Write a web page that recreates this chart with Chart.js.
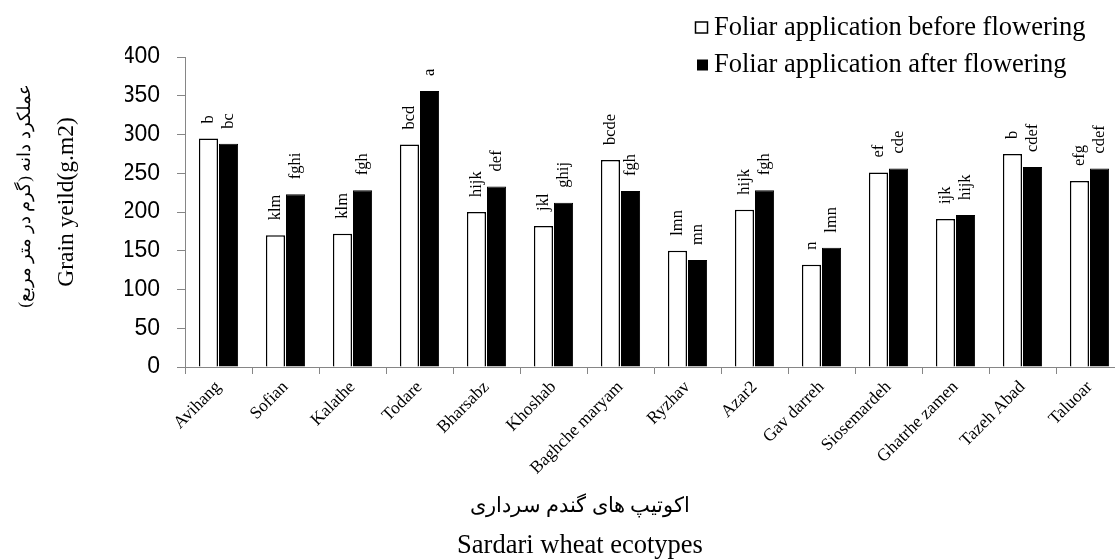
<!DOCTYPE html>
<html>
<head>
<meta charset="utf-8">
<script src="https://cdn.jsdelivr.net/npm/chart.js@4"></script>
<style>
html, body { margin: 0; padding: 0; background: #fff; overflow: hidden; }
</style>
</head>
<body>
<canvas id="yieldChart" width="1126" height="559"></canvas>
<script>
// chart data
var ecotypes = ['Avihang', 'Sofian', 'Kalathe', 'Todare', 'Bharsabz', 'Khoshab', 'Baghche maryam',
                'Ryzhav', 'Azar2', 'Gav darreh', 'Siosemardeh', 'Ghatrhe zamen', 'Tazeh Abad', 'Taluoar'];
var beforeFlowering = [295, 170, 172, 287, 200, 182, 267, 150, 203, 132, 251, 191, 275, 240];
var afterFlowering  = [288, 223, 228, 356, 233, 212, 227, 138, 228, 154, 256, 196, 258, 256];
var beforeLetters = ['b', 'klm', 'klm', 'bcd', 'hijk', 'jkl', 'bcde', 'lmn', 'hijk', 'n', 'ef', 'ijk', 'b', 'efg'];
var afterLetters  = ['bc', 'fghi', 'fgh', 'a', 'def', 'ghij', 'fgh', 'mn', 'fgh', 'lmn', 'cde', 'hijk', 'cdef', 'cdef'];
var seriesNames = ['Foliar application before flowering', 'Foliar application after flowering'];
var yTitle = ['عملکرد دانه (گرم در متر مربع)', 'Grain yeild(g.m2)'];
var xTitle = ['اکوتیپ های گندم سرداری', 'Sardari wheat ecotypes'];

var serif = '"Liberation Serif", "Times New Roman", serif';
var axisGrey = '#868686';

// letters of mean comparison above each bar
var lettersPlugin = {
    id: 'letters',
    afterDatasetsDraw: function(chart) {
        var ctx = chart.ctx;
        ctx.save();
        ctx.font = '16.5px ' + serif;
        ctx.fillStyle = '#000';
        ctx.textAlign = 'left';
        ctx.textBaseline = 'middle';
        [beforeLetters, afterLetters].forEach(function(letters, d) {
            chart.getDatasetMeta(d).data.forEach(function(bar, i) {
                ctx.save();
                ctx.translate(bar.x, bar.y - 15);
                ctx.rotate(-Math.PI / 2);
                ctx.fillText(letters[i], 0, 0);
                ctx.restore();
            });
        });
        ctx.restore();
    }
};

// stacked legend in the top right corner
var legendPlugin = {
    id: 'stackLegend',
    afterDraw: function(chart) {
        var ctx = chart.ctx;
        var x = 695, y = 27;
        ctx.save();
        ctx.font = '26.5px ' + serif;
        ctx.textBaseline = 'middle';
        ctx.fillStyle = '#000';
        chart.data.datasets.forEach(function(ds, i) {
            var cy = y + i * 37;
            if (i === 0) {
                ctx.strokeStyle = '#000';
                ctx.lineWidth = 1.5;
                ctx.strokeRect(x + 0.5, cy - 5, 12, 11);
            } else {
                ctx.fillRect(x + 2, cy - 4.5, 11, 11);
            }
            ctx.fillText(ds.label, x + 19, cy + 1);
        });
        ctx.restore();
    }
};

// two-line axis titles (Persian + English)
var titlesPlugin = {
    id: 'titles',
    afterDraw: function(chart) {
        var ctx = chart.ctx, a = chart.chartArea;
        ctx.save();
        ctx.fillStyle = '#000';
        ctx.textAlign = 'center';
        ctx.textBaseline = 'middle';
        var midY = (a.top + a.bottom) / 2;
        ctx.save();
        ctx.translate(a.left - 160, midY - 16);
        ctx.rotate(-Math.PI / 2);
        ctx.font = '17.5px ' + serif;
        ctx.fillText(yTitle[0], 0, 0);
        ctx.restore();
        ctx.save();
        ctx.translate(a.left - 118, midY - 10);
        ctx.rotate(-Math.PI / 2);
        ctx.font = '23.5px ' + serif;
        ctx.fillText(yTitle[1], 0, 0);
        ctx.restore();
        ctx.font = '20.5px ' + serif;
        ctx.fillText(xTitle[0], a.left + 395, 507);
        ctx.font = '26.5px ' + serif;
        ctx.fillText(xTitle[1], a.left + 395, 546);
        ctx.restore();
    }
};

var ctx = document.getElementById('yieldChart').getContext('2d');
var yieldChart = new Chart(ctx, {
    type: 'bar',
    data: {
        labels: ecotypes,
        datasets: [{
            label: seriesNames[0],
            data: beforeFlowering,
            backgroundColor: '#ffffff',
            borderColor: '#000000',
            borderWidth: 1.5
        }, {
            label: seriesNames[1],
            data: afterFlowering,
            backgroundColor: '#000000',
            borderColor: '#000000',
            borderWidth: 1
        }]
    },
    options: {
        responsive: false,
        animation: false,
        categoryPercentage: 0.6,
        barPercentage: 0.95,
        layout: { padding: { left: 125, top: 57, right: 3, bottom: 0 } },
        plugins: {
            legend: { display: false },
            tooltip: { enabled: false }
        },
        scales: {
            x: {
                ticks: {
                    font: { family: serif, size: 17.5 },
                    color: '#000',
                    minRotation: 45,
                    maxRotation: 45,
                    autoSkip: false
                },
                grid: { drawOnChartArea: false, tickLength: 7, color: axisGrey, offset: true },
                border: { color: axisGrey },
                afterFit: function(s) { s.height = 192; }
            },
            y: {
                min: 0,
                max: 400,
                ticks: {
                    stepSize: 50,
                    font: { family: '"Liberation Sans", Arial, sans-serif', size: 23 },
                    color: '#000',
                    padding: 17
                },
                grid: { drawOnChartArea: false, tickLength: 8, color: axisGrey },
                border: { color: axisGrey },
                afterFit: function(s) { s.width = 60; }
            }
        }
    },
    plugins: [lettersPlugin, legendPlugin, titlesPlugin]
});
</script>
</body>
</html>
